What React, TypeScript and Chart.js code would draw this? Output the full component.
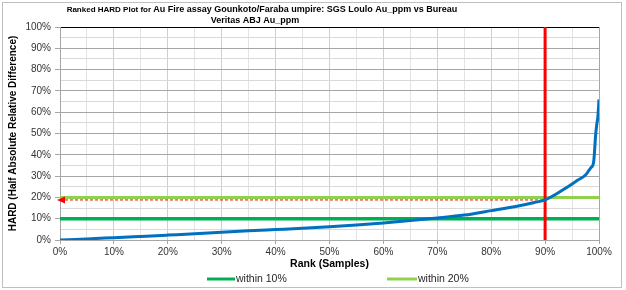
import React, { useEffect, useRef } from 'react';
import { Chart, registerables } from 'chart.js';

Chart.register(...registerables);

// Ranked HARD curve (percent of samples vs HARD %)
const rankPct = [0, 5, 10, 15, 20, 25, 30, 35, 40, 45, 50, 55, 60, 65, 70, 75, 80, 85, 88, 90, 92, 94, 96, 97.5, 98.5, 99, 99.4, 99.6, 99.8, 100];
const hardPct = [0, 0.5, 1.1, 1.7, 2.3, 2.9, 3.6, 4.3, 4.9, 5.5, 6.2, 7.0, 8.0, 9.1, 10.3, 11.7, 13.8, 16.0, 17.6, 18.8, 21.5, 24.6, 28.0, 30.5, 34.0, 36.5, 50.0, 54.5, 58.0, 66.0];

const within10 = 10;
const within20 = 20;
const cutoffRank = 90;
const hardAtCutoff = 18.8;

const titleSmall = 'Ranked HARD Plot for ';
const titleLine1 = 'Au Fire assay Gounkoto/Faraba umpire: SGS Loulo Au_ppm vs Bureau';
const titleLine2 = 'Veritas ABJ Au_ppm';
const yTitle = 'HARD (Half Absolute Relative Difference)';
const xTitle = 'Rank (Samples)';
const legendLabels = ['within 10%', 'within 20%'];

const FONT = "'Liberation Sans', Arial, sans-serif";
const BLUE = '#0070C0';
const DARK_GREEN = '#00B050';
const LIGHT_GREEN = '#92D050';
const RED = '#FF0000';

const decoPlugin = {
  id: 'deco',
  beforeDraw(chart: any) {
    const ctx = chart.ctx;
    ctx.save();
    ctx.fillStyle = '#fff';
    ctx.fillRect(0, 0, chart.width, chart.height);
    ctx.restore();
  },
  afterDraw(chart: any) {
    const ctx = chart.ctx;
    const { left, right, top, bottom } = chart.chartArea;
    const xs = chart.scales.x;
    const ys = chart.scales.y;
    ctx.save();
    // outer frame
    ctx.strokeStyle = '#BFBFBF';
    ctx.lineWidth = 1;
    ctx.strokeRect(2.5, 2.5, 619, 285);

    // arrow on red dashed line
    const ay = ys.getPixelForValue(hardAtCutoff);
    const ax = xs.getPixelForValue(0);
    ctx.fillStyle = RED;
    ctx.beginPath();
    ctx.moveTo(ax - 3, ay);
    ctx.lineTo(ax + 5, ay - 3.5);
    ctx.lineTo(ax + 5, ay + 3.5);
    ctx.closePath();
    ctx.fill();

    // title
    ctx.fillStyle = '#000';
    ctx.textBaseline = 'middle';
    const f1 = `bold 8px ${FONT}`;
    const f2 = `bold 9px ${FONT}`;
    ctx.font = f1;
    const w1 = ctx.measureText(titleSmall).width;
    ctx.font = f2;
    const w2 = ctx.measureText(titleLine1).width;
    const cx = 262;
    const sx = cx - (w1 + w2) / 2;
    ctx.textAlign = 'left';
    ctx.font = f1;
    ctx.fillText(titleSmall, sx, 10);
    ctx.font = f2;
    ctx.fillText(titleLine1, sx + w1, 9.5);
    ctx.textAlign = 'center';
    ctx.fillText(titleLine2, 255, 21);

    // y title
    ctx.save();
    ctx.translate(13, (top + bottom) / 2);
    ctx.rotate(-Math.PI / 2);
    ctx.font = `bold 10px ${FONT}`;
    ctx.textAlign = 'center';
    ctx.fillText(yTitle, 0, 0);
    ctx.restore();

    // x title
    ctx.font = `bold 10.5px ${FONT}`;
    ctx.textAlign = 'center';
    ctx.fillText(xTitle, (left + right) / 2, 264);

    // legend
    const ly = 279;
    const items = [
      { x0: 207, x1: 235, color: DARK_GREEN, label: legendLabels[0] },
      { x0: 387, x1: 417, color: LIGHT_GREEN, label: legendLabels[1] },
    ];
    ctx.font = `10.5px ${FONT}`;
    ctx.textAlign = 'left';
    ctx.fillStyle = '#262626';
    items.forEach((it) => {
      ctx.strokeStyle = it.color;
      ctx.lineWidth = 3;
      ctx.beginPath();
      ctx.moveTo(it.x0, ly);
      ctx.lineTo(it.x1, ly);
      ctx.stroke();
      ctx.fillText(it.label, it.x1 + 1, ly);
    });
    ctx.restore();
  },
};

export default function App() {
  const ref = useRef<HTMLCanvasElement | null>(null);

  useEffect(() => {
    document.body.style.margin = '0';
    const canvas = ref.current;
    if (!canvas) return;
    const curve = rankPct.map((r, i) => ({ x: r, y: hardPct[i] }));
    const chart = new Chart(canvas, {
      type: 'line',
      data: {
        datasets: [
          {
            label: 'HARD',
            data: curve,
            borderColor: BLUE,
            borderWidth: 3,
            pointRadius: 0,
            cubicInterpolationMode: 'monotone',
            order: 0,
          },
          {
            label: 'cutoff',
            data: [{ x: cutoffRank, y: 0 }, { x: cutoffRank, y: 100 }],
            borderColor: RED,
            borderWidth: 3,
            pointRadius: 0,
            order: 1,
          },
          {
            label: 'level',
            data: [{ x: 0, y: hardAtCutoff }, { x: cutoffRank, y: hardAtCutoff }],
            borderColor: RED,
            borderWidth: 1,
            borderDash: [3, 2],
            pointRadius: 0,
            order: 2,
          },
          {
            label: legendLabels[1],
            data: [{ x: 0, y: within20 }, { x: 100, y: within20 }],
            borderColor: LIGHT_GREEN,
            borderWidth: 3,
            pointRadius: 0,
            order: 3,
          },
          {
            label: legendLabels[0],
            data: [{ x: 0, y: within10 }, { x: 100, y: within10 }],
            borderColor: DARK_GREEN,
            borderWidth: 3.5,
            pointRadius: 0,
            order: 4,
          },
        ],
      },
      options: {
        animation: false,
        responsive: false,
        maintainAspectRatio: false,
        layout: { padding: { left: 0, right: 27, top: 27, bottom: 0 } },
        plugins: {
          legend: { display: false },
          title: { display: false },
          tooltip: { enabled: false },
        },
        scales: {
          x: {
            type: 'linear',
            min: 0,
            max: 100,
            ticks: {
              stepSize: 5,
              autoSkip: false,
              maxRotation: 0,
              padding: 2,
              color: '#333',
              font: { family: FONT, size: 10 },
              callback: (v: any) => (Number(v) % 10 === 0 ? `${v}%` : ''),
            },
            grid: {
              color: (c: any) => {
                const v = c.tick ? c.tick.value : 0;
                if (v === 100) return '#A6A6A6';
                return v % 10 === 0 ? '#CFCFCF' : '#E3E3E3';
              },
              tickLength: 4,
              tickColor: (c: any) => (c.tick && c.tick.value % 10 === 0 ? '#A6A6A6' : 'rgba(0,0,0,0)'),
            },
            border: { color: '#A6A6A6' },
            afterFit: (s: any) => {
              s.height = 50;
              s.paddingLeft = 0;
              s.paddingRight = 0;
            },
          },
          y: {
            type: 'linear',
            min: 0,
            max: 100,
            ticks: {
              stepSize: 5,
              autoSkip: false,
              padding: 4,
              color: '#333',
              font: { family: FONT, size: 10 },
              callback: (v: any) => (Number(v) % 10 === 0 ? `${v}%` : ''),
            },
            grid: {
              color: (c: any) => {
                const v = c.tick ? c.tick.value : 0;
                if (v === 100) return '#000000';
                return v % 10 === 0 ? '#A6A6A6' : '#D9D9D9';
              },
              tickLength: 5,
              tickColor: (c: any) => (c.tick && c.tick.value % 10 === 0 ? '#A6A6A6' : 'rgba(0,0,0,0)'),
            },
            border: { color: '#A6A6A6' },
            afterFit: (s: any) => {
              s.width = 60;
              s.paddingTop = 0;
              s.paddingBottom = 0;
            },
          },
        },
      },
      plugins: [decoPlugin],
    } as any);
    return () => chart.destroy();
  }, []);

  return (
    <div style={{ position: 'fixed', left: 0, top: 0, width: 626, height: 290, background: '#fff' }}>
      <canvas ref={ref} width={626} height={290} style={{ display: 'block', width: 626, height: 290 }} />
    </div>
  );
}
